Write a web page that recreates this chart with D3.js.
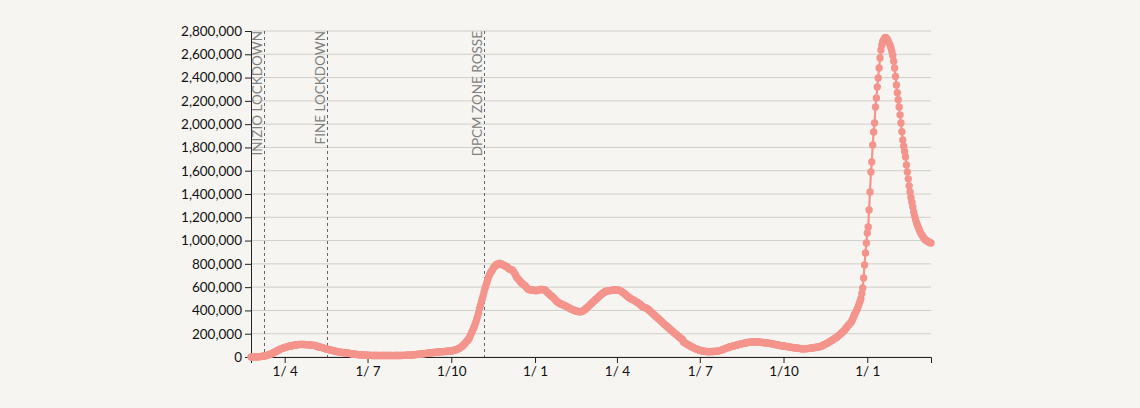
<!DOCTYPE html>
<html>
<head>
<meta charset="utf-8">
<script src="https://cdn.jsdelivr.net/npm/d3@7"></script>
<style>
  html, body { margin: 0; padding: 0; background: #f7f5f1; }
  svg { display: block; font-family: Lato, "Open Sans", sans-serif; }
</style>
</head>
<body>
<svg id="chart" width="1140" height="408"></svg>
<script>
// ---- DATA (attualmente positivi, thousands, daily from 24 Feb 2020) ----
const startDate = "2020-02-24";
const values2020 = [
  0.2,0.3,0.4,0.6,0.8,1.0,
  1.6,1.8,2.3,2.7,3.3,4.0,5.1,6.4,8.0,8.5,10.6,12.8,14.9,18.0,20.6,23.1,26.1,28.7,33.2,37.9,42.7,46.6,50.4,54.0,57.5,62.0,66.4,70.1,73.9,75.5,77.6,
  80.6,83.0,85.4,88.3,91.2,93.2,94.1,95.3,96.9,98.3,100.3,102.3,103.6,104.3,105.4,106.6,106.9,107.8,108.3,108.2,107.7,107.7,106.8,106.5,105.8,106.1,105.8,105.2,104.7,101.6,
  100.9,100.7,100.2,100.0,99.0,91.5,89.6,87.9,84.8,83.3,82.5,81.3,78.5,76.4,72.1,70.2,68.4,66.6,65.1,62.8,60.9,57.8,56.6,55.3,52.9,50.9,48.0,47.0,46.2,43.7,42.1,
  41.4,39.9,39.3,38.4,37.0,36.0,35.9,35.3,34.7,32.9,31.7,29.0,27.5,26.3,25.9,24.6,23.9,23.1,21.5,21.0,20.6,19.6,18.7,18.3,17.6,17.0,16.7,15.6,15.3,15.1,
  14.9,14.6,14.3,14.0,13.6,13.4,13.3,13.2,12.9,12.6,12.5,12.9,12.6,12.2,12.4,12.5,12.5,12.4,12.4,12.3,12.6,12.5,12.5,12.6,12.5,12.5,12.4,12.2,12.2,12.4,12.5,
  12.6,12.6,12.5,12.6,12.8,13.0,13.3,13.6,13.8,14.1,14.1,14.4,14.6,15.0,15.4,16.0,16.5,17.0,17.5,18.4,19.2,19.7,20.8,21.6,22.4,23.0,24.2,25.1,25.9,26.8,27.8,
  28.6,29.3,30.1,31.2,32.6,33.8,34.9,35.7,36.6,37.5,38.5,39.2,39.7,40.5,41.4,42.5,43.5,44.1,45.1,45.5,46.1,46.1,46.5,47.7,48.6,49.4,49.6,50.6,51.3,51.3,
  52.6,54.0,56.3,58.9,60.1,61.5,64.9,68.1,70.1,74.8,82.8,87.2,92.2,99.3,107.3,116.9,126.2,136.6,142.7,155.4,165.9,186.0,203.0,222.2,236.7,255.1,276.5,299.2,325.8,351.4,378.2,
  418,443,472,499,527,559,590,613,635,664,688,705,721,734,743,761,774,780,790,797,792,798,806,802,800,795,790,786,782,779,
  776,769,761,755,751,749,747,739,727,712,696,683,675,665,656,647,638,630,624,618,612,603,594,586,581,578,575,576,577,576,572
];
const values2021 = [
  571,570,570,573,575,578,580,581,580,578,577,575,566,558,552,545,537,530,524,518,510,502,494,485,477,471,466,461,457,453,450,
  447,444,440,436,431,427,423,419,415,411,407,404,401,398,395,393,391,390,389,389,391,394,398,403,409,416,423,430,
  437,444,452,460,468,475,482,489,496,503,510,518,526,533,539,545,550,556,561,565,568,569,570,570,571,572,573,574,575,576,576,
  575,574,573,571,568,563,557,551,545,539,532,525,518,512,507,502,497,493,489,485,481,476,471,466,461,455,448,441,434,428,
  426,423,421,418,411,404,397,390,383,376,369,361,354,347,340,333,326,319,311,304,296,289,282,276,269,262,255,248,241,235,228,
  221,214,207,201,194,188,181,174,168,161,156,150,128,124,120,115,110,105,100,96,92,88,84,80,76,72,69,66,63,60,
  58,56,54,52,50,49,48,47,46,46,46,46,46,46,47,47,48,48,49,50,51,53,55,57,60,63,66,69,72,75,78,
  81,84,86,89,91,93,95,97,99,101,103,105,107,109,111,113,115,117,119,121,123,124,125,126,127,128,129,130,130,130,130,
  130,130,129,129,128,127,126,125,124,123,122,121,120,119,118,117,115,114,112,111,109,108,106,104,103,101,99,98,96,95,
  94,93,92,90,89,88,87,85,84,83,82,80,79,78,77,76,75,74,73,72,71,71,71,71,71,72,72,73,74,75,76,
  77,78,80,81,82,84,85,86,88,89,92,95,99,103,107,111,115,119,124,128,133,137,142,147,152,157,162,168,175,180,
  186,193,201,209,216,222,230,240,250,260,270,279,287,297,310,327,346,365,381,395,412,432,455,478,500,545,593,678,790,893,979
];
const values2022 = [
  1065,1117,1262,1417,1589,1675,1821,1932,2010,2147,2225,2319,2397,2482,2568,2637,2680,2710,2723,2740,2745,2738,2730,2710,2695,2680,2655,2625,2590,2540,2482,
  2410,2336,2270,2210,2147,2080,2010,1935,1864,1810,1765,1718,1650,1589,1530,1470,1417,1370,1330,1290,1245,1210,1180,1155,1134,1112,1095,1075,
  1060,1048,1035,1022,1012,1005,1000,995,990,985,982,979
];
const yTicks = [0,200000,400000,600000,800000,1000000,1200000,1400000,1600000,1800000,2000000,2200000,2400000,2600000,2800000];
const eventDates = ["2020-03-09","2020-05-18","2020-11-06"];
const eventLabels = ["INIZIO LOCKDOWN","FINE LOCKDOWN","DPCM ZONE ROSSE"];

// ---- BUILD ----
const parse = d3.timeParse("%Y-%m-%d");
const t0 = parse(startDate);
const allValues = values2020.concat(values2021, values2022);
const data = allValues.map((v, i) => ({ date: d3.timeDay.offset(t0, i), value: v * 1000 }));

const margin = { top: 31, right: 209, bottom: 51, left: 251 };
const W = 1140, H = 408;
const w = W - margin.left - margin.right;
const h = H - margin.top - margin.bottom;

const svg = d3.select("#chart");
svg.append("rect").attr("width", W).attr("height", H).attr("fill", "#f7f5f1");
const g = svg.append("g").attr("transform", `translate(${margin.left},${margin.top})`);

const x = d3.scaleTime().domain(d3.extent(data, d => d.date)).range([0, w]);
const y = d3.scaleLinear().domain([0, 2800000]).range([h, 0]);

// grid
g.append("g").selectAll("line").data(yTicks).join("line")
  .attr("x1", 0).attr("x2", w)
  .attr("y1", d => y(d)).attr("y2", d => y(d))
  .attr("stroke", "#d0cec9").attr("stroke-width", 1);

// y axis
const yAxis = g.append("g").call(d3.axisLeft(y).tickValues(yTicks).tickFormat(d3.format(",")));
yAxis.selectAll("text").attr("font-size", 13.5).attr("fill", "#111").attr("font-family", "Lato, sans-serif");
yAxis.selectAll("line, path").attr("stroke", "#222");

// x axis
const xAxis = g.append("g").attr("transform", `translate(0,${h})`)
  .call(d3.axisBottom(x).ticks(d3.timeMonth.every(3)).tickFormat(d3.timeFormat("%-d/%_m")));
xAxis.selectAll("text").attr("font-size", 13.5).attr("fill", "#111").attr("font-family", "Lato, sans-serif")
  .style("white-space", "pre").attr("xml:space", "preserve");
xAxis.selectAll("line, path").attr("stroke", "#222");

// event lines
const ev = g.append("g").selectAll("g").data(eventDates.map((d, i) => ({ date: parse(d), label: eventLabels[i] }))).join("g")
  .attr("transform", d => `translate(${Math.round(x(d.date)) + 0.5},0)`);
ev.append("line").attr("y1", 0).attr("y2", h)
  .attr("stroke", "#666").attr("stroke-width", 1).attr("stroke-dasharray", "3,3");
ev.append("text")
  .attr("transform", "translate(-3,0) rotate(-90)")
  .attr("text-anchor", "end")
  .attr("font-size", 13.5).attr("fill", "#808080").attr("font-family", "Lato, sans-serif")
  .text(d => d.label);

// series
const color = "#f4948c";
g.append("path").datum(data)
  .attr("fill", "none").attr("stroke", color).attr("stroke-width", 2.2)
  .attr("d", d3.line().x(d => x(d.date)).y(d => y(d.value)));
g.append("g").selectAll("circle").data(data).join("circle")
  .attr("cx", d => x(d.date)).attr("cy", d => y(d.value)).attr("r", 3.7)
  .attr("fill", color);
</script>
</body>
</html>
